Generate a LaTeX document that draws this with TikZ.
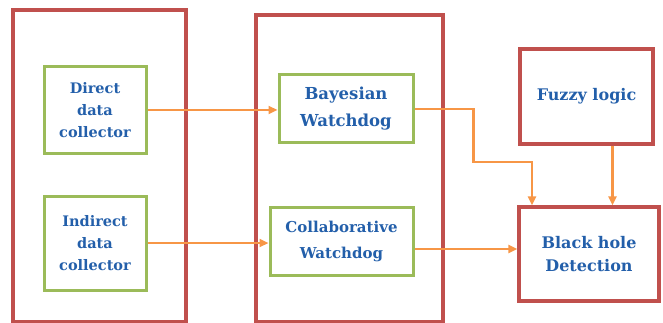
\documentclass[tikz,border=0pt]{standalone}
\usepackage{fontspec}
\setmainfont{DejaVu Serif}
\usetikzlibrary{arrows.meta}
\definecolor{boxred}{RGB}{192,80,77}
\definecolor{boxgreen}{RGB}{155,187,89}
\definecolor{arrorange}{RGB}{247,150,70}
\definecolor{txtblue}{RGB}{35,95,170}
\tikzset{
  outer/.style={draw=boxred, line width=3.2pt, inner sep=0pt},
  redbox/.style={draw=boxred, line width=3.2pt, align=center, text=txtblue, inner sep=0pt},
  greenbox/.style={draw=boxgreen, line width=3pt, align=center, text=txtblue, inner sep=0pt},
  arr/.style={draw=arrorange, line width=2.5pt, -{Triangle[length=9pt,width=8pt]}},
}
\begin{document}
\begin{tikzpicture}[x=1pt,y=-1pt]
\useasboundingbox (0,0) rectangle (663,323);
\node[outer, minimum width=173pt, minimum height=312pt] (left) at (99.5,166) {};
\node[outer, minimum width=187pt, minimum height=307pt] (mid) at (349.5,168.5) {};
\node[greenbox, minimum width=102pt, minimum height=87pt, font=\fontsize{14.5}{22}\selectfont\bfseries] (direct) at (95,110) {Direct\\data\\collector};
\node[greenbox, minimum width=102pt, minimum height=94pt, font=\fontsize{14.5}{22}\selectfont\bfseries] (indirect) at (95,243) {Indirect\\data\\collector};
\node[greenbox, minimum width=134pt, minimum height=68pt, font=\fontsize{16.5}{27}\selectfont\bfseries] (bayes) at (346,109) {Bayesian\\Watchdog};
\node[greenbox, minimum width=143pt, minimum height=68pt, font=\fontsize{15}{26}\selectfont\bfseries] (collab) at (341.5,241) {Collaborative\\Watchdog};
\node[redbox, minimum width=133pt, minimum height=95pt, font=\fontsize{16}{23}\selectfont\bfseries] (fuzzy) at (586.5,96.5) {Fuzzy logic};
\node[redbox, minimum width=140pt, minimum height=94pt, font=\fontsize{16}{23}\selectfont\bfseries] (black) at (589,254) {Black hole\\Detection};
\draw[arr] (direct.east) -- (direct.east -| bayes.west);
\draw[arr] (indirect.east) -- (indirect.east -| collab.west);
\draw[arr] ([yshift=-8pt]collab.east) -- ([yshift=-8pt]collab.east -| black.west);
\draw[arr] (bayes.east) -- ++(59,0) -- ++(0,53) -| ([xshift=-57pt]black.north);
\draw[arr] ([xshift=26pt]fuzzy.south) -- ([xshift=26pt]fuzzy.south |- black.north);
\end{tikzpicture}
\end{document}
